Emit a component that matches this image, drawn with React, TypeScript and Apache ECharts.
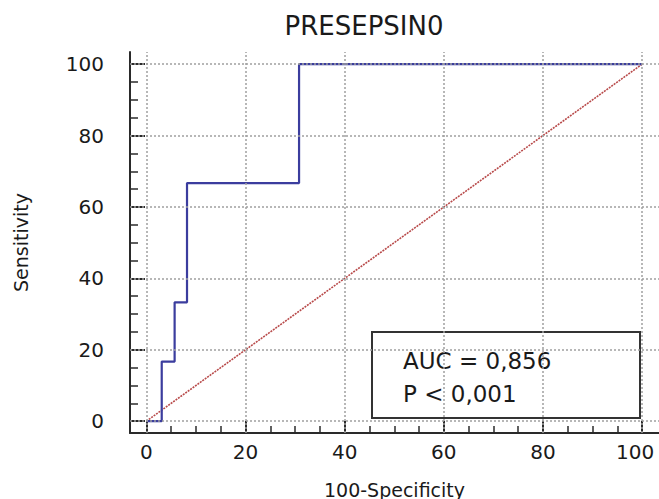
import React, { useEffect, useRef } from "react";
import * as echarts from "echarts";

const chartTitle = "PRESEPSIN0";
const xName = "100-Specificity";
const yName = "Sensitivity";
const rocX = [0, 3.1, 5.7, 8.2, 30.8, 100];
const rocY = [0, 16.7, 33.3, 66.7, 100, 100];
const refX = [0, 100];
const refY = [0, 100];
const majorTicks = [0, 20, 40, 60, 80, 100];
const minorTicks = [0, 5, 10, 15, 20, 25, 30, 35, 40, 45, 50, 55, 60, 65, 70, 75, 80, 85, 90, 95, 100];
const statLines = ["AUC = 0,856", "P < 0,001"];

const FONT = "DejaVu Sans";
const AXMIN = -3.3;
const AXMAX_X = 103.4;
const AXMAX_Y = 103.4;

export default function App() {
  const ref = useRef<HTMLDivElement>(null);
  useEffect(() => {
    document.body.style.margin = "0";
    const chart = echarts.init(ref.current!, undefined, { renderer: "svg" });
    const axisLineStyle = { color: "#2a2a2a", width: 2 };
    const baseX = {
      type: "value" as const,
      min: AXMIN,
      max: AXMAX_X,
      position: "bottom" as const,
      offset: 0,
      splitLine: { show: false },
    };
    const baseY = {
      type: "value" as const,
      min: AXMIN,
      max: AXMAX_Y,
      position: "left" as const,
      offset: 0,
      splitLine: { show: false },
    };
    const option: any = {
      animation: false,
      backgroundColor: "#ffffff",
      title: {
        text: chartTitle,
        left: 359,
        textAlign: "center",
        top: 8,
        textStyle: { fontFamily: FONT, fontSize: 26, fontWeight: "normal", color: "#1a1a1a" },
      },
      grid: { left: 130, right: 0, top: 52, bottom: 66, containLabel: false, outerBoundsMode: "none" },
      xAxis: [
        {
          ...baseX,
          name: xName,
          nameLocation: "middle",
          nameGap: 47,
          nameTextStyle: { fontFamily: FONT, fontSize: 19, color: "#1a1a1a" },
          axisLine: { show: true, onZero: false, lineStyle: axisLineStyle },
          axisTick: { show: true, inside: true, length: 7, customValues: minorTicks, lineStyle: { color: "#2a2a2a", width: 1.5 } },
          axisLabel: {
            show: true,
            customValues: majorTicks,
            margin: 9,
            fontFamily: FONT,
            fontSize: 20,
            color: "#1a1a1a",
            formatter: (v: number) => (v === 100 ? "{m|" + v + "}" : String(v)),
            rich: { m: { fontFamily: FONT, fontSize: 20, color: "#1a1a1a", padding: [0, 14, 0, 0] } },
          },
        },
        {
          ...baseX,
          axisLine: { show: false, onZero: false },
          axisTick: { show: true, inside: true, length: 12, customValues: majorTicks, lineStyle: { color: "#2a2a2a", width: 2 } },
          axisLabel: { show: false },
        },
      ],
      yAxis: [
        {
          ...baseY,
          name: yName,
          nameLocation: "middle",
          nameGap: 100,
          nameTextStyle: { fontFamily: FONT, fontSize: 19, color: "#1a1a1a" },
          axisLine: { show: true, onZero: false, lineStyle: axisLineStyle },
          axisTick: { show: true, inside: true, length: 8, customValues: minorTicks, lineStyle: { color: "#2a2a2a", width: 1.5 } },
          axisLabel: { show: true, customValues: majorTicks, margin: 26, padding: [0, 0, 6, 0], fontFamily: FONT, fontSize: 20, color: "#1a1a1a" },
        },
        {
          ...baseY,
          axisLine: { show: false, onZero: false },
          axisTick: { show: true, inside: true, length: 15, customValues: majorTicks, lineStyle: { color: "#2a2a2a", width: 2 } },
          axisLabel: { show: false },
        },
      ],
      series: [
        {
          type: "line",
          name: "grid",
          data: [],
          silent: true,
          markLine: {
            silent: true,
            symbol: "none",
            label: { show: false },
            lineStyle: { color: "#a0a0a0", type: [2, 2], width: 1.5 },
            data: [
              ...majorTicks.map((v) => ({ xAxis: v })),
              ...majorTicks.map((v) => ({ yAxis: v })),
            ],
          },
          z: 1,
        },
        {
          type: "line",
          name: "Reference",
          data: refX.map((x, i) => [x, refY[i]]),
          showSymbol: false,
          symbol: "none",
          lineStyle: { color: "#b84a4a", width: 1.6, type: [2, 1] },
          z: 3,
        },
        {
          type: "line",
          name: "ROC",
          data: rocX.map((x, i) => [x, rocY[i]]),
          step: "end",
          showSymbol: false,
          symbol: "none",
          lineStyle: { color: "#3b3d9e", width: 2.2 },
          z: 4,
        },
      ],
      graphic: [
        {
          type: "group",
          z: 100,
          children: [
            {
              type: "rect",
              shape: { x: 372, y: 332, width: 268, height: 86 },
              style: { fill: "#ffffff", stroke: "#333333", lineWidth: 2 },
            },
            {
              type: "text",
              x: 403,
              y: 361,
              style: { text: statLines[0], fontFamily: FONT, fontSize: 23, fill: "#1a1a1a", verticalAlign: "middle" },
            },
            {
              type: "text",
              x: 403,
              y: 394,
              style: { text: statLines[1], fontFamily: FONT, fontSize: 23, fill: "#1a1a1a", verticalAlign: "middle" },
            },
          ],
        },
      ],
    };
    chart.setOption(option);
    return () => chart.dispose();
  }, []);
  return <div ref={ref} style={{ position: "absolute", left: 0, top: 0, width: 659, height: 499 }} />;
}
